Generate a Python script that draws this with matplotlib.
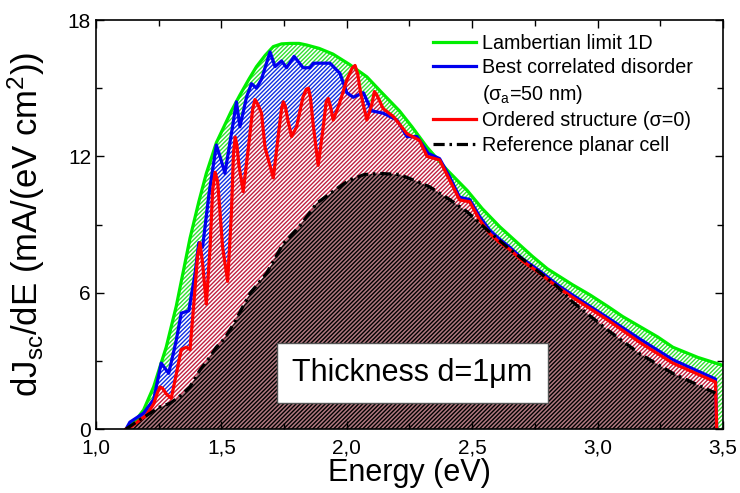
import numpy as np
import matplotlib
matplotlib.use('Agg')
import matplotlib.pyplot as plt
from matplotlib.lines import Line2D

plt.rcParams['font.family'] = ['Liberation Sans', 'DejaVu Sans']
plt.rcParams['mathtext.fontset'] = 'custom'
plt.rcParams['mathtext.rm'] = 'Liberation Sans'
plt.rcParams['mathtext.it'] = 'Liberation Sans:italic'
plt.rcParams['hatch.linewidth'] = 1.0

# Lambertian limit 1D
E_lamb = [1.12, 1.15, 1.19, 1.23, 1.28, 1.32, 1.375, 1.41, 1.44, 1.48, 1.51, 1.54, 1.574, 1.61,
          1.64, 1.675, 1.707, 1.74, 1.774, 1.81, 1.84, 1.89, 1.945, 2.01, 2.08, 2.14, 2.21, 2.26,
          2.32, 2.40, 2.48, 2.54, 2.61, 2.68, 2.74, 2.80, 2.85, 2.90, 2.97, 3.04, 3.10, 3.17,
          3.24, 3.30, 3.40, 3.50]
J_lamb = [0.0, 0.26, 0.84, 1.86, 3.6, 5.4, 8.4, 10.0, 11.25, 12.6, 13.3, 14.0, 14.7, 15.4,
          15.95, 16.45, 16.83, 16.95, 16.97, 16.97, 16.9, 16.75, 16.5, 16.05, 15.5, 14.8, 14.0, 13.3,
          12.4, 11.4, 10.5, 9.7, 8.9, 8.2, 7.6, 7.05, 6.7, 6.35, 5.9, 5.4, 4.95, 4.5,
          4.05, 3.6, 3.15, 2.8]

# best correlated disorder
E_best = [1.12, 1.135, 1.19, 1.23, 1.26, 1.29, 1.32, 1.34, 1.37, 1.395, 1.41, 1.425, 1.45, 1.48,
          1.50, 1.514, 1.54, 1.56, 1.574, 1.60, 1.62, 1.64, 1.66, 1.694, 1.714, 1.74, 1.76, 1.79,
          1.826, 1.853, 1.866, 1.893, 1.933, 1.973, 2.0, 2.026, 2.066, 2.10, 2.145, 2.20, 2.24,
          2.28, 2.325, 2.37, 2.41, 2.45, 2.49, 2.53, 2.57, 2.61, 2.65, 2.70, 2.77, 2.84, 2.90,
          3.04, 3.17, 3.30, 3.47, 3.475]
J_best = [0.0, 0.3, 0.7, 1.3, 2.9, 2.45, 3.9, 5.1, 5.2, 6.85, 8.2, 8.0, 10.3, 12.5,
          11.8, 11.25, 13.0, 14.4, 13.3, 14.6, 15.2, 15.0, 15.4, 16.6, 15.95, 16.2, 15.9, 16.4,
          15.9, 15.9, 16.1, 16.1, 16.1, 15.65, 14.8, 14.6, 14.8, 14.0, 13.9, 13.6, 12.87,
          12.87, 12.13, 11.9, 11.1, 10.2, 10.1, 9.35, 8.75, 8.35, 8.0, 7.5, 6.95, 6.35, 5.9,
          4.9, 3.95, 3.05, 2.2, 0.0]

# ordered structure
E_ord = [1.12, 1.14, 1.17, 1.20, 1.23, 1.245, 1.255, 1.265, 1.28, 1.30, 1.32, 1.34, 1.36, 1.375,
         1.39, 1.405, 1.415, 1.425, 1.44, 1.455, 1.465, 1.475, 1.485, 1.49, 1.505, 1.525, 1.54,
         1.548, 1.555, 1.562, 1.57, 1.587, 1.61, 1.625, 1.634, 1.645, 1.66, 1.674, 1.707, 1.73,
         1.74, 1.747, 1.755, 1.765, 1.78, 1.80, 1.825, 1.838, 1.847, 1.855, 1.865, 1.886, 1.905,
         1.918, 1.926, 1.935, 1.946, 1.97, 2.0, 2.022, 2.033, 2.044, 2.055, 2.08, 2.10, 2.11,
         2.12, 2.145, 2.186, 2.24, 2.29, 2.32, 2.37, 2.41, 2.45, 2.49, 2.53, 2.57, 2.61, 2.65,
         2.70, 2.77, 2.84, 2.90, 3.04, 3.17, 3.30, 3.47, 3.475]
J_ord = [0.0, 0.1, 0.35, 0.6, 1.1, 1.6, 1.85, 1.8, 1.55, 1.35, 2.4, 3.5, 3.6, 3.5,
         5.5, 7.6, 8.2, 7.3, 5.5, 8.0, 10.5, 11.3, 10.9, 10.2, 8.0, 6.5, 9.5,
         12.1, 12.85, 12.5, 11.6, 10.45, 12.6, 14.1, 14.5, 14.3, 13.9, 12.4, 11.05, 13.2,
         14.1, 14.4, 14.2, 13.6, 12.87, 13.3, 14.6, 14.95, 15.0, 14.6, 13.5, 11.6, 13.2,
         14.4, 14.55, 14.2, 13.6, 14.3, 15.36, 15.9, 16.0, 15.6, 14.8, 13.6, 14.3, 14.85,
         14.7, 14.1, 13.75, 13.0, 12.7, 12.0, 11.84, 10.96, 10.08, 10.0, 9.2, 8.6, 8.2, 7.9,
         7.4, 6.85, 6.25, 5.8, 4.8, 3.8, 2.9, 2.07, 0.0]

# reference planar cell
E_ref = [1.12, 1.16, 1.215, 1.25, 1.295, 1.33, 1.375, 1.415, 1.455, 1.48, 1.514, 1.55, 1.614,
         1.68, 1.747, 1.81, 1.88, 1.95, 2.01, 2.07, 2.13, 2.21, 2.28, 2.33, 2.41, 2.48, 2.56,
         2.64, 2.74, 2.84, 2.90, 3.04, 3.17, 3.30, 3.47]
J_ref = [0.0, 0.3, 0.69, 0.95, 1.13, 1.4, 1.86, 2.6, 3.18, 3.6, 4.0, 4.65, 5.97,
         6.85, 8.17, 8.9, 9.93, 10.5, 10.96, 11.2, 11.25, 11.2, 10.9, 10.66, 10.1, 9.56, 8.76,
         8.0, 7.14, 6.26, 5.6, 4.36, 3.3, 2.45, 1.58]

xticks = [1.0, 1.5, 2.0, 2.5, 3.0, 3.5]
xtick_labels = ['1,0', '1,5', '2,0', '2,5', '3,0', '3,5']
yticks = [0, 6, 12, 18]

fig = plt.figure(figsize=(7.4, 4.93), dpi=100)
ax = fig.add_axes([0.1297, 0.1298, 0.8473, 0.8296])

# hatched areas
ax.fill_between(E_lamb, 0, J_lamb, facecolor='none', edgecolor='#33dd33', hatch='////////', linewidth=0)
ax.fill_between(E_best, 0, J_best, facecolor='white', edgecolor='#1030e0', hatch='////////', linewidth=0)
ax.fill_between(E_ord, 0, J_ord, facecolor='white', edgecolor='#c02040', hatch='////////', linewidth=0)
ax.fill_between(E_ref, 0, J_ref, facecolor='#b07880', edgecolor='black', hatch='////////', linewidth=0)

l1, = ax.plot(E_lamb, J_lamb, color='#00ee00', lw=2.3)
l2, = ax.plot(E_best, J_best, color='#0000ee', lw=2.3)
l3, = ax.plot(E_ord, J_ord, color='#ff0000', lw=2.3)
l4, = ax.plot(E_ref, J_ref, color='black', lw=2.3, ls=(0, (3.5, 1.5, 0.8, 1.5)))
blank = Line2D([], [], color='none')

ax.set_xlim(1.0, 3.5)
ax.set_ylim(0, 18)
ax.set_xticks(xticks)
ax.set_xticklabels(xtick_labels)
ax.set_yticks(yticks)
ax.set_xticks(np.arange(1.25, 3.5, 0.5), minor=True)
ax.set_yticks([3, 9, 15], minor=True)
ax.tick_params(which='both', direction='in', top=True, right=True, labelsize=15, width=1)
ax.tick_params(which='major', length=6)
ax.tick_params(which='minor', length=4)
ax.tick_params(axis='x', pad=7)
for s in ax.spines.values():
    s.set_linewidth(1.2)

ax.set_xlabel('Energy (eV)', fontsize=22, labelpad=0)
ax.set_ylabel('dJ$_{\\rm sc}$/dE (mA/(eV cm$^{2}$))', fontsize=25)
ax.yaxis.set_label_coords(-0.078, 0.5)

ax.legend([l1, l2, blank, l3, l4],
          ['Lambertian limit 1D', 'Best correlated disorder', '(σ$_{\\rm a}$=50 nm)',
           'Ordered structure (σ=0)', 'Reference planar cell'],
          loc='upper left', bbox_to_anchor=(0.537, 0.967), frameon=False, fontsize=14.2,
          handlelength=2.2, handletextpad=0.3, labelspacing=0.28, borderpad=0, borderaxespad=0)

ax.text(0.505, 0.137, 'Thickness d=1μm', transform=ax.transAxes, fontsize=22,
        ha='center', va='center',
        bbox=dict(boxstyle='square,pad=0.5', facecolor='white', edgecolor='#555555', lw=1))

fig.savefig('out.png', dpi=100)
